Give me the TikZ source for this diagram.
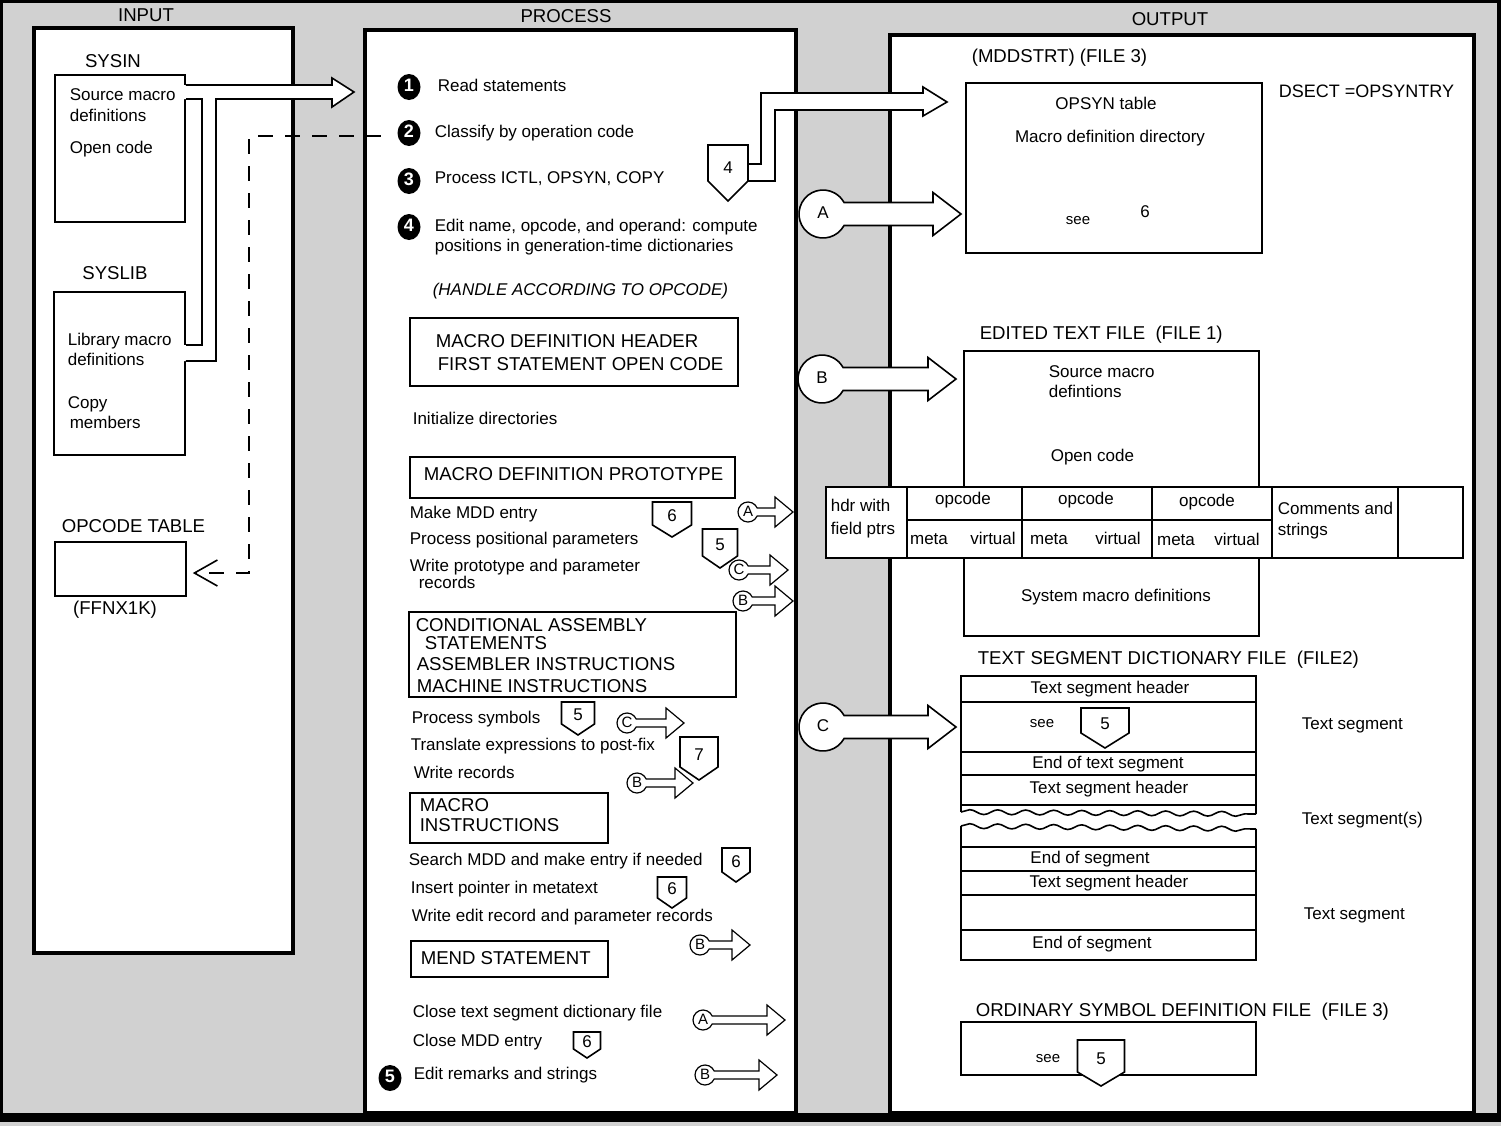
\documentclass[tikz,border=0pt]{standalone}
\usepackage{fontspec}
\setmainfont{Liberation Sans}
\usetikzlibrary{fit}
\usetikzlibrary{shapes.geometric}
\usetikzlibrary{arrows.meta}
\usetikzlibrary{decorations.pathmorphing}

\begin{document}
\begin{tikzpicture}
[x=0.5pt,y=-0.5pt,thick,%
  every node/.style={inner sep=0pt,text height=6pt,text depth=1.5pt},%
  txt/.style={anchor=west},%
  caps/.style={font=\fontsize{9.3}{11}\selectfont},%
  seefont/.style={font=\fontsize{7.5}{9}\selectfont},%
  panel/.style={draw,line width=2.2pt,fill=white},%
  box/.style={draw,thick},%
  bullet/.style={ellipse,fill=black,text=white,minimum width=11.5pt,minimum height=13pt,font=\fontsize{9}{10}\selectfont\bfseries},%
  pics/offpg/.style args={#1/#2/#3/#4}{code={%
    \draw[fill=white] (-#1/2,0) -- (#1/2,0) -- (#1/2,#2-#3) -- (0,#2) -- (-#1/2,#2-#3) -- cycle;
    \node (-n) at (0,0.43*#2) {#4};}},%
  pics/bigconn/.style args={#1/#2}{code={%
    \draw[fill=white] (21.06,11.5) arc[start angle=28.6,end angle=331.4,radius=24]
      -- (#2-28,-11.5) -- (#2-28,-21.5) -- (#2,0) -- (#2-28,21.5) -- (#2-28,11.5) -- cycle;
    \node (-c) {#1};}},%
  pics/smallconn/.style args={#1/#2}{code={%
    \draw[fill=white,semithick] (9.17,4) arc[start angle=23.6,end angle=336.4,radius=10]
      -- (#2-18,-4) -- (#2-18,-15) -- (#2,0) -- (#2-18,15) -- (#2-18,4) -- cycle;
    \node[seefont] (-c) {#1};}}]
\fontsize{8.5}{10}\selectfont
\useasboundingbox (0,0) rectangle (1501,1126);
\fill[black!18] (0,0) rectangle (1501,1126);
\node[panel,fit={(34,28) (293,953)}] (inpanel) {};
\node[panel,fit={(365,30) (796,1113)}] (prpanel) {};
\node[panel,fit={(890,35) (1474,1113)}] (outpanel) {};
\draw[line width=2pt] (1,1) rectangle (1499,1117);
\draw[line width=4.5pt] (0,1117) -- (1501,1117);
\node[caps] (tin) at (146,17) {INPUT};
\node[caps] (tpr) at (566,18) {PROCESS};
\node[caps] (tout) at (1170,21) {OUTPUT};

\node[caps] (lsysin) at (113,63) {SYSIN};
\node[box,fit={(55,75) (185,222)}] (sysin) {};
\node[txt] (si1) at (69,96) {Source macro};
\node[txt] (si2) at (69,117) {definitions};
\node[txt] (si3) at (69,149) {Open code};
\node[caps] (lsyslib) at (115,275) {SYSLIB};
\node[box,fit={(54,292) (185,455)}] (syslib) {};
\node[txt] (sl1) at (67,341) {Library macro};
\node[txt] (sl2) at (67,361) {definitions};
\node[txt] (sl3) at (67,404) {Copy};
\node[txt] (sl4) at (69,424) {members};
\node[txt,caps] (lopt) at (61,528) {OPCODE TABLE};
\node[box,fit={(55,542) (186,596)}] (opt) {};
\node[caps] (ffnx) at (115,610) {(FFNX1K)};
\fill[white] (183,85) -- (332,85) -- (332,78) -- (354,92) -- (332,107) -- (332,99) -- (216,99)
  -- (216,361) -- (183,361) -- (183,345) -- (202,345) -- (202,99) -- (183,99) -- cycle;
\draw (sysin.east |- 0,85) -- (332,85) -- (332,78) -- (354,92) -- (332,107) -- (332,99) -- (216,99)
  -- (216,361) -- (syslib.east |- 0,361);
\draw (syslib.east |- 0,345) -- (202,345) -- (202,99) -- (sysin.east |- 0,99);

\node[bullet] (b1) at (409,87) {1};
\node[bullet] (b2) at (409,133) {2};
\node[bullet] (b3) at (409,181) {3};
\node[bullet] (b4) at (409,227) {4};
\node[bullet] (b5) at (390,1078) {5};
\draw[dash pattern=on 7.5pt off 6pt,-{Straight Barb[length=11.5pt,width=13pt]}]
  ([xshift=-8pt,yshift=-1.5pt]b2.west) -| (249,573) -- ([xshift=3pt,yshift=-2pt]opt.east);
\node[txt] (t1) at (437,87) {Read statements};
\node[txt] (t2) at (434,133) {Classify by operation code};
\node[txt] (t3) at (434,179) {Process ICTL, OPSYN, COPY};
\node[txt] (t4a) at (434,227) {Edit name, opcode, and operand: compute};
\node[txt] (t4b) at (434,247) {positions in generation-time dictionaries};
\node[txt,caps,font=\itshape] (hdl) at (432,291) {(HANDLE ACCORDING TO OPCODE)};
\node[box,fit={(410,318) (738,386)}] (mdh) {};
\node[txt,caps] (mdh1) at (435,343) {MACRO DEFINITION HEADER};
\node[txt,caps] (mdh2) at (437,366) {FIRST STATEMENT OPEN CODE};
\node[txt] (ini) at (412,420) {Initialize directories};
\node[box,fit={(410,457) (735,498)}] (mdp) {};
\node[txt,caps] (mdp1) at (423,476) {MACRO DEFINITION PROTOTYPE};
\node[txt] (pp1) at (409,514) {Make MDD entry};
\node[txt] (pp2) at (409,540) {Process positional parameters};
\node[txt] (pp3) at (409,567) {Write prototype and parameter};
\node[txt] (pp4) at (418,584) {records};
\node[box,fit={(409,612) (736,697)}] (cas) {};
\node[txt,caps] (cas1) at (415,627) {CONDITIONAL ASSEMBLY};
\node[txt,caps] (cas2) at (424,645) {STATEMENTS};
\node[txt,caps] (cas3) at (416,666) {ASSEMBLER INSTRUCTIONS};
\node[txt,caps] (cas4) at (416,688) {MACHINE INSTRUCTIONS};
\node[txt] (cs1) at (411,719) {Process symbols};
\node[txt] (cs2) at (410,746) {Translate expressions to post-fix};
\node[txt] (cs3) at (413,774) {Write records};
\node[box,fit={(410,793) (608,843)}] (mac) {};
\node[txt,caps] (mac1) at (419,807) {MACRO};
\node[txt,caps] (mac2) at (419,827) {INSTRUCTIONS};
\node[txt] (mi1) at (408,861) {Search MDD and make entry if needed};
\node[txt] (mi2) at (410,889) {Insert pointer in metatext};
\node[txt] (mi3) at (411,917) {Write edit record and parameter records};
\node[box,fit={(411,941) (608,977)}] (mend) {};
\node[txt,caps] (mend1) at (420,960) {MEND STATEMENT};
\node[txt] (me1) at (412,1013) {Close text segment dictionary file};
\node[txt] (me2) at (412,1042) {Close MDD entry};
\node[txt] (me3) at (413,1075) {Edit remarks and strings};

\pic (p4) at (728,145) {offpg=40/56/20/4};
\pic (p6a) at (672,502) {offpg=39/35/12/6};
\pic (p5a) at (720,529) {offpg=35/39/12/5};
\pic (p5b) at (578,702) {offpg=33/33/11/5};
\pic (p7) at (699,737) {offpg=38/43/13/7};
\pic (p6b) at (736,848) {offpg=28/34/10/6};
\pic (p6c) at (672,877) {offpg=29/31/10/6};
\pic (p6d) at (587,1032) {offpg=27/26/9/6};
\pic (sA1) at (748,512) {smallconn=A/45};
\pic (sC1) at (739,570) {smallconn=C/49};
\pic (sB1) at (743,601) {smallconn=B/50};
\pic (sC2) at (627,723) {smallconn=C/57};
\pic (sB2) at (637,783) {smallconn=B/56};
\pic (sB3) at (700,945) {smallconn=B/50};
\pic (sA2) at (703,1020) {smallconn=A/82};
\pic (sB4) at (705,1075) {smallconn=B/72};

\node[txt,caps] (mdd) at (971,58) {(MDDSTRT) (FILE 3)};
\node[box,fit={(966,83) (1262,253)}] (opsyn) {};
\node[txt,caps,font=\fontsize{9}{11}\selectfont] (dsect) at (1278,93) {DSECT =OPSYNTRY};
\node (os1) at (1106,105) {OPSYN table};
\node (os2) at (1110,138) {Macro definition directory};
\node[seefont] (os3) at (1078,220) {see};
\node (os4) at (1145,213) {6};
\fill[white] (749,164) -- (761,164) -- (761,93) -- (923,93) -- (923,87) -- (947,102) -- (923,116)
  -- (923,110) -- (775,110) -- (775,181) -- (749,181) -- cycle;
\draw (748,164) -- (761,164) -- (761,93) -- (923,93) -- (923,87) -- (947,102) -- (923,116)
  -- (923,110) -- (775,110) -- (775,181) -- (748,181);

\node[txt,caps] (etf) at (979,335) {EDITED TEXT FILE~~(FILE 1)};
\node[box,fit={(964,351) (1259,487)}] (etup) {};
\node[box,fit={(964,558) (1259,636)}] (etlow) {};
\node[box,fill=white,fit={(826,487) (1463,558)}] (ettab) {};
\draw (907,487) -- (907,558) (1022,487) -- (1022,558) (1152,487) -- (1152,558)
  (1272,487) -- (1272,558) (1398,487) -- (1398,558) (907,520) -- (1272,520);
\node[txt] (et1) at (1048,373) {Source macro};
\node[txt] (et2) at (1048,393) {defintions};
\node[txt] (et3) at (1050,457) {Open code};
\node[txt] (hd1) at (830,507) {hdr with};
\node[txt] (hd2) at (830,530) {field ptrs};
\node (op1) at (963,500) {opcode};
\node (op2) at (1086,500) {opcode};
\node (op3) at (1207,502) {opcode};
\node (me1a) at (929,540) {meta};
\node (vi1) at (993,540) {virtual};
\node (me2a) at (1049,540) {meta};
\node (vi2) at (1118,540) {virtual};
\node (me3a) at (1176,541) {meta};
\node (vi3) at (1237,541) {virtual};
\node[txt] (cm1) at (1277,510) {Comments and};
\node[txt] (cm2) at (1277,531) {strings};
\node (smd) at (1116,597) {System macro definitions};

\node[txt,caps] (tsd) at (977,660) {TEXT SEGMENT DICTIONARY FILE~~(FILE2)};
\draw (961,812) -- (961,676) -- (1256,676) -- (1256,814);
\draw (961,826) -- (961,960) -- (1256,960) -- (1256,829);
\draw[decorate,decoration={snake,amplitude=1.2pt,segment length=14pt}] (961,812) -- (1256,814);
\draw[decorate,decoration={snake,amplitude=1.2pt,segment length=14pt}] (961,826) -- (1256,829);
\draw (961,702) -- (1256,702) (961,752) -- (1256,752) (961,775) -- (1256,775) (961,805) -- (1256,805)
  (961,847) -- (1256,847) (961,871) -- (1256,871) (961,895) -- (1256,895) (961,930) -- (1256,930);
\node (ts1) at (1110,689) {Text segment header};
\node[seefont] (ts2) at (1042,723) {see};
\pic (p5c) at (1105,708) {offpg=48/40/15/5};
\node (ts3) at (1108,764) {End of text segment};
\node (ts4) at (1109,789) {Text segment header};
\node (ts5) at (1090,859) {End of segment};
\node (ts6) at (1109,883) {Text segment header};
\node (ts7) at (1092,944) {End of segment};
\node[txt] (seg1) at (1301,725) {Text segment};
\node[txt] (seg2) at (1301,820) {Text segment(s)};
\node[txt] (seg3) at (1303,915) {Text segment};

\node[txt,caps] (osd) at (975,1012) {ORDINARY SYMBOL DEFINITION FILE~~(FILE 3)};
\node[box,fit={(961,1022) (1256,1075)}] (osdf) {};
\node[seefont] (osd1) at (1048,1058) {see};
\pic (p5d) at (1101,1040) {offpg=47/46/14/5};

\pic (cA) at (823,214) {bigconn=A/138};
\pic (cB) at (822,379) {bigconn=B/134};
\pic (cC) at (823,727) {bigconn=C/133};
\end{tikzpicture}
\end{document}
